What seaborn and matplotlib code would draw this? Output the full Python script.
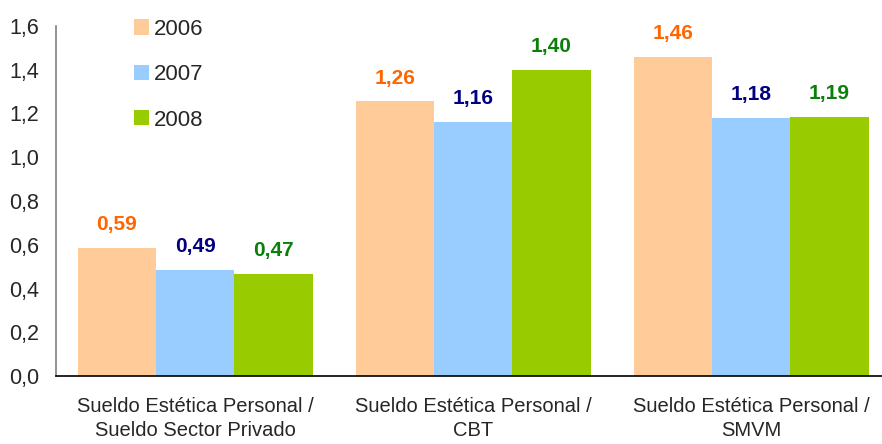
import pandas as pd
import matplotlib
matplotlib.use("Agg")
import matplotlib.pyplot as plt
import seaborn as sns

# Datos
categorias = ["Sueldo Estética Personal /\nSueldo Sector Privado",
              "Sueldo Estética Personal /\nCBT",
              "Sueldo Estética Personal /\nSMVM"]
anios = ["2006", "2007", "2008"]
valores_2006 = [0.585, 1.255, 1.46]
valores_2007 = [0.485, 1.16, 1.18]
valores_2008 = [0.465, 1.40, 1.185]
etiquetas_2006 = ["0,59", "1,26", "1,46"]
etiquetas_2007 = ["0,49", "1,16", "1,18"]
etiquetas_2008 = ["0,47", "1,40", "1,19"]

colores_barras = ["#FFCC99", "#99CCFF", "#99CC00"]
colores_texto = ["#FF6600", "#000080", "#0A800A"]

dados = pd.DataFrame({
    "categoria": categorias * 3,
    "anio": [a for a in anios for _ in categorias],
    "valor": valores_2006 + valores_2007 + valores_2008,
})

sns.set_style("white")
plt.rcParams["font.family"] = ["Liberation Sans", "DejaVu Sans"]

fig = plt.figure(figsize=(8.82, 4.44), dpi=100)
ax = fig.add_axes([56 / 882, 1 - 376 / 444, 1 - 56 / 882, 350 / 444])

sns.barplot(data=dados, x="categoria", y="valor", hue="anio",
            palette=colores_barras, width=0.845, gap=0, saturation=1,
            errorbar=None, ax=ax, linewidth=0)

# Etiquetas de valores
etiquetas = [etiquetas_2006, etiquetas_2007, etiquetas_2008]
for cont, etq, cor in zip(ax.containers, etiquetas, colores_texto):
    ax.bar_label(cont, labels=etq, padding=10, color=cor,
                 fontsize=15, fontweight="bold")

ax.set_ylim(0, 1.6)
ax.set_xlim(-0.5, 2.47)
ax.set_yticks([i * 0.2 for i in range(9)])
ax.set_yticklabels([f"{i * 0.2:.1f}".replace(".", ",") for i in range(9)],
                   fontsize=15.5)
ax.tick_params(axis="y", length=5, width=1, color="#808080", pad=7)
ax.set_xticks([0, 1, 2])
ax.set_xticklabels(categorias, fontsize=14.5, linespacing=1.35)
ax.tick_params(axis="x", length=0, pad=15)
ax.set_xticks([0.5, 1.5], minor=True)
ax.tick_params(axis="x", which="minor", length=5, width=1, color="#808080")
ax.set_xlabel("")
ax.set_ylabel("")

for lado in ["top", "right"]:
    ax.spines[lado].set_visible(False)
ax.spines["left"].set_color("#808080")
ax.spines["left"].set_linewidth(1.2)
ax.spines["bottom"].set_color("black")
ax.spines["bottom"].set_linewidth(1.2)

ax.legend(title=None, frameon=False, fontsize=16, loc="upper left",
          bbox_to_anchor=(0.07, 1.078), labelspacing=1.1,
          handlelength=0.68, handleheight=0.68, handletextpad=0.2)

fig.savefig("out.png", dpi=100)
